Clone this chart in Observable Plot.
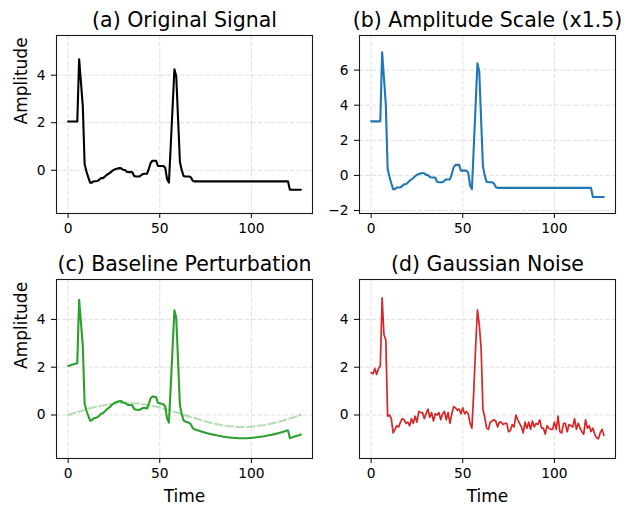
<!DOCTYPE html>
<html>
<head>
<meta charset="utf-8">
<script src="https://cdn.jsdelivr.net/npm/d3@7"></script>
<script src="https://cdn.jsdelivr.net/npm/@observablehq/plot@0.6"></script>
<style>
html, body { margin: 0; padding: 0; background: #fff; }
#fig { position: relative; width: 631px; height: 508px; overflow: hidden; background: #fff; font-family: "DejaVu Sans", sans-serif; }
.panel { position: absolute; }
.panel svg { overflow: visible; display: block; }
</style>
</head>
<body>
<div id="fig"></div>
<script>
// ---- Data ----
const titles = ["(a) Original Signal", "(b) Amplitude Scale (x1.5)", "(c) Baseline Perturbation", "(d) Gaussian Noise"];
const xTicks = [0, 50, 100];
const yTicksA = [0, 2, 4];
const yTicksB = [-2, 0, 2, 4, 6];
const yTicksC = [0, 2, 4];
const yTicksD = [0, 2, 4];

const original = [
  2.05, 2.05, 2.05, 2.05, 2.05, 2.05, 4.67, 3.70, 2.70, 0.25,
  -0.05, -0.30, -0.52, -0.52, -0.46, -0.46, -0.45, -0.40, -0.33, -0.33,
  -0.27, -0.20, -0.15, -0.10, -0.03, 0.02, 0.05, 0.07, 0.09, 0.08,
  0.02, 0.01, -0.06, -0.08, -0.08, -0.08, -0.24, -0.26, -0.26, -0.26,
  -0.20, -0.15, -0.15, -0.15, 0.05, 0.30, 0.40, 0.40, 0.40, 0.18,
  0.18, 0.18, 0.18, 0.10, -0.38, -0.52, 1.05, 2.65, 4.25, 3.95,
  2.15, 0.35, 0.00, -0.24, -0.26, -0.26, -0.26, -0.30, -0.44, -0.47,
  -0.47, -0.47, -0.47, -0.47, -0.47, -0.47, -0.47, -0.47, -0.47, -0.47,
  -0.47, -0.47, -0.47, -0.47, -0.47, -0.47, -0.47, -0.47, -0.47, -0.47,
  -0.47, -0.47, -0.47, -0.47, -0.47, -0.47, -0.47, -0.47, -0.47, -0.47,
  -0.47, -0.47, -0.47, -0.47, -0.47, -0.47, -0.47, -0.47, -0.47, -0.47,
  -0.47, -0.47, -0.47, -0.47, -0.47, -0.47, -0.47, -0.47, -0.47, -0.47,
  -0.47, -0.82, -0.82, -0.82, -0.82, -0.82, -0.82, -0.82
];

const scaled = [
  3.08, 3.08, 3.08, 3.08, 3.08, 3.08, 7.01, 5.55, 4.05, 0.38,
  -0.08, -0.45, -0.78, -0.78, -0.69, -0.69, -0.68, -0.60, -0.50, -0.50,
  -0.41, -0.30, -0.23, -0.15, -0.05, 0.03, 0.08, 0.11, 0.14, 0.12,
  0.03, 0.02, -0.09, -0.12, -0.12, -0.12, -0.36, -0.39, -0.39, -0.39,
  -0.30, -0.23, -0.23, -0.23, 0.08, 0.45, 0.60, 0.60, 0.60, 0.27,
  0.27, 0.27, 0.27, 0.15, -0.57, -0.78, 1.58, 3.98, 6.38, 5.93,
  3.23, 0.53, 0.00, -0.36, -0.39, -0.39, -0.39, -0.45, -0.66, -0.71,
  -0.71, -0.71, -0.71, -0.71, -0.71, -0.71, -0.71, -0.71, -0.71, -0.71,
  -0.71, -0.71, -0.71, -0.71, -0.71, -0.71, -0.71, -0.71, -0.71, -0.71,
  -0.71, -0.71, -0.71, -0.71, -0.71, -0.71, -0.71, -0.71, -0.71, -0.71,
  -0.71, -0.71, -0.71, -0.71, -0.71, -0.71, -0.71, -0.71, -0.71, -0.71,
  -0.71, -0.71, -0.71, -0.71, -0.71, -0.71, -0.71, -0.71, -0.71, -0.71,
  -0.71, -1.23, -1.23, -1.23, -1.23, -1.23, -1.23, -1.23
];

const baseline = [
  0.00, 0.02, 0.05, 0.07, 0.10, 0.12, 0.15, 0.17, 0.19, 0.22,
  0.24, 0.26, 0.28, 0.30, 0.32, 0.34, 0.36, 0.37, 0.39, 0.40,
  0.42, 0.43, 0.44, 0.45, 0.46, 0.47, 0.48, 0.49, 0.49, 0.50,
  0.50, 0.50, 0.50, 0.50, 0.50, 0.49, 0.49, 0.48, 0.48, 0.47,
  0.46, 0.45, 0.44, 0.42, 0.41, 0.40, 0.38, 0.36, 0.35, 0.33,
  0.31, 0.29, 0.27, 0.25, 0.23, 0.20, 0.18, 0.16, 0.13, 0.11,
  0.09, 0.06, 0.04, 0.01, -0.01, -0.04, -0.06, -0.09, -0.11, -0.13,
  -0.16, -0.18, -0.20, -0.23, -0.25, -0.27, -0.29, -0.31, -0.33, -0.35,
  -0.36, -0.38, -0.40, -0.41, -0.42, -0.44, -0.45, -0.46, -0.47, -0.48,
  -0.48, -0.49, -0.49, -0.50, -0.50, -0.50, -0.50, -0.50, -0.50, -0.49,
  -0.49, -0.48, -0.47, -0.46, -0.45, -0.44, -0.43, -0.42, -0.40, -0.39,
  -0.37, -0.36, -0.34, -0.32, -0.30, -0.28, -0.26, -0.24, -0.22, -0.19,
  -0.17, -0.15, -0.12, -0.10, -0.07, -0.05, -0.02, 0.00
];

const perturbed = [
  2.05, 2.07, 2.10, 2.12, 2.15, 2.17, 4.82, 3.87, 2.89, 0.47,
  0.19, -0.04, -0.24, -0.22, -0.14, -0.12, -0.09, -0.03, 0.06, 0.07,
  0.15, 0.23, 0.29, 0.35, 0.43, 0.49, 0.53, 0.56, 0.58, 0.58,
  0.52, 0.51, 0.44, 0.42, 0.42, 0.41, 0.25, 0.22, 0.22, 0.21,
  0.26, 0.30, 0.29, 0.27, 0.46, 0.70, 0.78, 0.76, 0.75, 0.51,
  0.49, 0.47, 0.45, 0.35, -0.15, -0.32, 1.23, 2.81, 4.38, 4.06,
  2.24, 0.41, 0.04, -0.23, -0.27, -0.30, -0.32, -0.39, -0.55, -0.60,
  -0.63, -0.65, -0.67, -0.70, -0.72, -0.74, -0.76, -0.78, -0.80, -0.82,
  -0.83, -0.85, -0.87, -0.88, -0.90, -0.91, -0.92, -0.93, -0.94, -0.95,
  -0.95, -0.96, -0.96, -0.97, -0.97, -0.97, -0.97, -0.97, -0.97, -0.96,
  -0.96, -0.95, -0.94, -0.93, -0.92, -0.91, -0.90, -0.89, -0.87, -0.86,
  -0.84, -0.83, -0.81, -0.79, -0.77, -0.75, -0.73, -0.71, -0.69, -0.66,
  -0.64, -0.97, -0.94, -0.92, -0.89, -0.87, -0.85, -0.82
];

const noisy = [
  1.77, 1.72, 1.95, 1.70, 1.95, 2.05, 4.90, 3.35, 3.15, -0.05,
  0.00, -0.15, -0.75, -0.60, -0.45, -0.50, -0.30, -0.15, -0.20, -0.35,
  -0.30, -0.45, -0.15, -0.35, -0.05, -0.30, 0.15, 0.10, 0.10, -0.15,
  0.05, 0.25, -0.10, 0.10, -0.25, 0.05, 0.00, 0.10, -0.20, 0.05,
  0.15, -0.20, 0.10, -0.35, 0.05, 0.35, 0.30, 0.20, 0.25, 0.05,
  0.30, 0.05, 0.15, 0.05, -0.35, -0.55, 1.00, 2.80, 4.40, 3.80,
  2.80, 0.25, -0.10, -0.55, -0.60, -0.30, -0.25, -0.20, -0.25, -0.50,
  -0.30, -0.30, -0.40, -0.35, -0.35, -0.70, -0.65, -0.40, -0.50, 0.00,
  -0.20, -0.35, -0.50, -0.75, -0.30, -0.55, -0.30, -0.60, -0.25, -0.50,
  -0.35, -0.40, -0.20, -0.55, -0.55, -0.80, -0.45, -0.55, -0.60, -0.60,
  -0.30, -0.60, -0.05, -0.70, -0.75, -0.35, -0.35, -0.70, -0.40, -0.45,
  -0.50, -0.15, -0.60, -0.35, -0.55, -0.70, -0.80, -0.20, -0.55, -0.45,
  -0.70, -0.55, -0.80, -0.95, -1.00, -0.75, -0.60, -0.85
];

// ---- Layout ----
const fig = document.getElementById("fig");
const FONT = "DejaVu Sans";
const gridStyle = {stroke: "#b0b0b0", strokeOpacity: 0.4, strokeWidth: 1, strokeDasharray: "4.5,2"};

function panel({left, top, width, height, mL, mR, mT, mB, yDomain, yTicks, title, lines, showY, showX}) {
  const marks = [
    Plot.gridX(xTicks, gridStyle),
    Plot.gridY(yTicks, gridStyle),
    ...lines,
    Plot.frame({stroke: "#1a1a1a", strokeWidth: 1.1}),
    Plot.axisX({ticks: xTicks, tickSize: 5, tickPadding: 4.5, label: null, stroke: "#000", fill: "#000"}),
    Plot.axisY({ticks: yTicks, tickSize: 5, tickPadding: 6, label: null, stroke: "#000", fill: "#000"}),
    Plot.text([title], {text: d => d, frameAnchor: "top", lineAnchor: "middle", dy: -15, fontSize: 20.5, fill: "#000"})
  ];
  if (showY) marks.push(Plot.text(["Amplitude"], {text: d => d, frameAnchor: "left", rotate: -90, lineAnchor: "middle", dx: -35, fontSize: 17, fill: "#000"}));
  if (showX) marks.push(Plot.text(["Time"], {text: d => d, frameAnchor: "bottom", lineAnchor: "middle", dy: 38.5, fontSize: 17, fill: "#000"}));
  const svg = Plot.plot({
    width, height,
    marginLeft: mL, marginRight: mR, marginTop: mT, marginBottom: mB,
    style: {fontFamily: FONT, fontSize: "13.8px", color: "#000", background: "transparent", overflow: "visible"},
    x: {domain: [-6.35, 133.35]},
    y: {domain: yDomain},
    marks
  });
  const div = document.createElement("div");
  div.className = "panel";
  div.style.left = left + "px";
  div.style.top = top + "px";
  div.appendChild(svg);
  fig.appendChild(div);
}

panel({left: 0, top: 0, width: 315, height: 254, mL: 56, mR: 3, mT: 35, mB: 41,
  yDomain: [-1.82, 5.67], yTicks: yTicksA, title: titles[0], showY: true, showX: false,
  lines: [Plot.lineY(original, {stroke: "#000000", strokeWidth: 2.1})]});

panel({left: 315, top: 0, width: 316, height: 254, mL: 44, mR: 16, mT: 35, mB: 41,
  yDomain: [-2.17, 7.97], yTicks: yTicksB, title: titles[1], showY: false, showX: false,
  lines: [Plot.lineY(scaled, {stroke: "#1f77b4", strokeWidth: 2.1})]});

panel({left: 0, top: 254, width: 315, height: 254, mL: 56, mR: 3, mT: 25, mB: 50,
  yDomain: [-1.82, 5.67], yTicks: yTicksC, title: titles[2], showY: true, showX: true,
  lines: [
    Plot.lineY(baseline, {stroke: "#2ca02c", strokeOpacity: 0.35, strokeWidth: 2.1, strokeDasharray: "7.5,3.3"}),
    Plot.lineY(perturbed, {stroke: "#2ca02c", strokeWidth: 2.1})
  ]});

panel({left: 315, top: 254, width: 316, height: 254, mL: 44, mR: 16, mT: 25, mB: 50,
  yDomain: [-1.82, 5.67], yTicks: yTicksD, title: titles[3], showY: false, showX: true,
  lines: [Plot.lineY(noisy, {stroke: "#d62728", strokeWidth: 1.7})]});
</script>
</body>
</html>
